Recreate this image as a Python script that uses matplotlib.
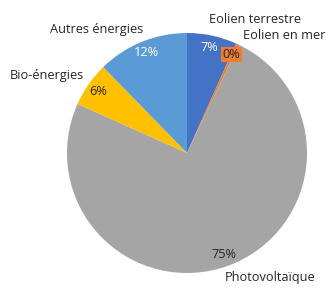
import matplotlib

matplotlib.use("Agg")

import matplotlib.pyplot as plt
import numpy as np

categories = ["Eolien terrestre", "Eolien en mer", "Photovoltaïque", "Bio-énergies", "Autres énergies"]
shares = [6.7, 0.4, 74.6, 6.0, 12.3]
pct_labels = ["7%", "0%", "75%", "6%", "12%"]
colors = ["#4472C4", "#ED7D31", "#A5A5A5", "#FFC000", "#5B9BD5"]
pct_colors = ["white", "#262626", "#262626", "#262626", "white"]

# where the category labels sit (pie radius = 1)
label_pos = [(0.57, 1.11), (0.81, 0.98), (0.69, -1.04), (-1.17, 0.65), (-0.75, 1.03)]

plt.rcParams["font.family"] = ["Open Sans", "DejaVu Sans"]

fig = plt.figure(figsize=(3.35, 3.06), dpi=100)
ax = fig.add_axes([0, 0, 1, 1])

wedges, _ = ax.pie(shares, colors=colors, startangle=90, counterclock=False)

for w, pct, pc, name, pos in zip(wedges, pct_labels, pct_colors, categories, label_pos):
    mid = np.deg2rad((w.theta1 + w.theta2) / 2)
    r = 0.9
    x, y = r * np.cos(mid), r * np.sin(mid)
    box = None
    if pct == "0%":
        x, y = 0.37, 0.82
        box = dict(boxstyle="square,pad=0.1", facecolor="#ED7D31", edgecolor="none")
    ax.text(x, y, pct, ha="center", va="center", fontsize=9.2, color=pc, bbox=box)
    ax.text(pos[0], pos[1], name, ha="center", va="center", fontsize=9.2, color="#262626")

ax.set_aspect("auto")
ax.set_xlim(-187 / 120, 148 / 120)
ax.set_ylim(-153 / 120, 153 / 120)
ax.axis("off")

fig.savefig("out.png", dpi=100)
plt.close(fig)
